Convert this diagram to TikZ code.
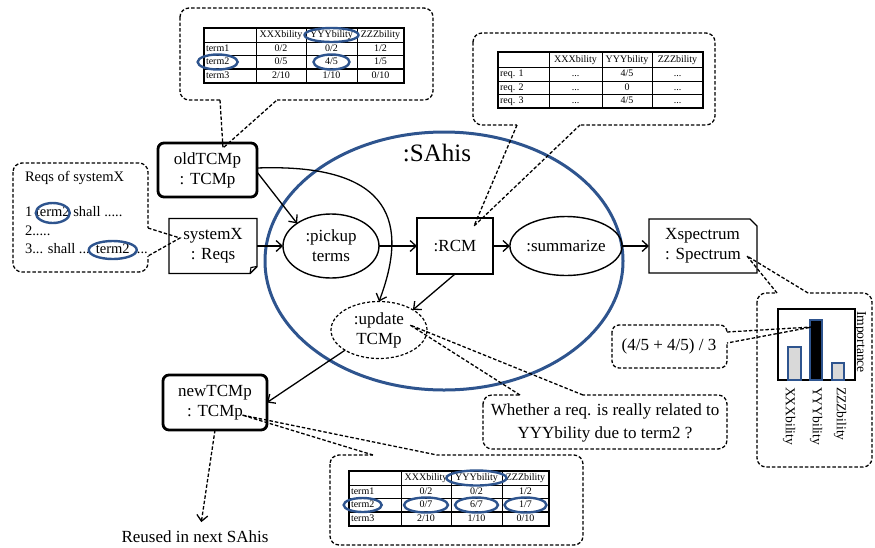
\documentclass[tikz,border=0pt]{standalone}
\usepackage{fontspec}
\setmainfont{Liberation Serif}
\usetikzlibrary{arrows.meta,shapes.geometric}
\definecolor{sablue}{RGB}{46,84,142}
\definecolor{bargray}{RGB}{217,217,217}
\tikzset{
  every node/.style={inner sep=0pt, outer sep=0pt},
  mainfont/.style={font=\fontsize{17}{20}\selectfont},
  obj/.style={mainfont, draw, line width=1.4pt, align=center},
  thickbox/.style={obj, line width=2.8pt, rounded corners=6pt, minimum width=99pt, minimum height=54pt},
  proc/.style={obj, ellipse},
  arr/.style={line width=1.3pt, -{Straight Barb[length=6pt,width=11pt]}},
  dsh/.style={dash pattern=on 3.5pt off 2pt, line width=1.3pt},
  callout/.style={dsh, rounded corners=9pt},
  erase/.style={white, line width=3pt},
  hl/.style={draw=sablue, line width=2.4pt},
  tabtxt/.style={font=\fontsize{10}{11}\selectfont, text height=7pt, text depth=2pt},
  rq/.style={font=\fontsize{14.5}{17}\selectfont, anchor=west, text height=10pt, text depth=3pt},
  chartlbl/.style={font=\fontsize{13.6}{15}\selectfont, rotate=-90},
  barbox/.style={draw=sablue, line width=2.5pt},
}
\newcommand\tcmtab[6]{%
\begin{scope}[shift={(#2,#3)}]
\draw[line width=.8pt] (52,0) -- (52,55) (102,0) -- (102,55) (153,0) -- (153,55) (0,14) -- (200,14) (0,27) -- (200,27);
\draw[line width=1.4pt] (0,41) -- (200,41) (0,0) rectangle (200,55);
\node[tabtxt] (#1-h1) at (77,7) {XXXbility};
\node[tabtxt] (#1-h2) at (127.5,7) {YYYbility};
\node[tabtxt] (#1-h3) at (176.5,7) {ZZZbility};
\node[tabtxt, anchor=west] (#1-r1) at (2,20.5) {term1};
\node[tabtxt, anchor=west] (#1-r2) at (2,34) {term2};
\node[tabtxt, anchor=west] (#1-r3) at (2,48) {term3};
\node[tabtxt] (#1-a1) at (77,20.5) {0/2};
\node[tabtxt] (#1-b1) at (127.5,20.5) {0/2};
\node[tabtxt] (#1-c1) at (176.5,20.5) {1/2};
\node[tabtxt] (#1-a2) at (77,34) {#4};
\node[tabtxt] (#1-b2) at (127.5,34) {#5};
\node[tabtxt] (#1-c2) at (176.5,34) {#6};
\node[tabtxt] (#1-a3) at (77,48) {2/10};
\node[tabtxt] (#1-b3) at (127.5,48) {1/10};
\node[tabtxt] (#1-c3) at (176.5,48) {0/10};
\end{scope}}
\begin{document}
\begin{tikzpicture}[x=1pt, y=-1pt]
\useasboundingbox (0,0) rectangle (875,547);

% big activity
\node[draw=sablue, line width=3pt, ellipse, minimum width=358pt, minimum height=258pt] (sahis) at (444,261) {};
\node[font=\fontsize{25}{28}\selectfont] (sahisl) at (437,153) {:SAhis};

% objects
\node[thickbox] (old) at (207.5,170) {oldTCMp\\: TCMp};
\node[obj, draw=none, minimum width=88pt, minimum height=55pt] (sys) at (213,246) {systemX\\: Reqs};
\draw[line width=1.4pt] (sys.north west) -- (sys.north east) -- ([yshift=7pt]sys.south east) -- ([xshift=-7pt]sys.south east) -- (sys.south west) -- cycle;
\draw[line width=1.1pt] ([yshift=7pt]sys.south east) -- ([xshift=-6pt,yshift=6pt]sys.south east) -- ([xshift=-7pt]sys.south east);
\node[proc, minimum width=96pt, minimum height=64pt] (pick) at (331,246) {:pickup\\terms};
\node[obj, line width=2.8pt, minimum width=76pt, minimum height=56pt] (rcm) at (455,246) {:RCM};
\node[proc, minimum width=92pt, minimum height=59pt] (sum) at (566,246) {:summarize};
\node[proc, dash pattern=on 3pt off 2pt, line width=1.2pt, minimum width=96pt, minimum height=57pt] (upd) at (379,330) {:update\\TCMp};
\node[obj, draw=none, align=left, minimum width=108pt, minimum height=54pt] (xs) at (703,246) {Xspectrum\\: Spectrum};
\draw[line width=1.4pt] (xs.south west) -- (xs.north west) -- ([xshift=-7pt]xs.north east) -- ([yshift=-7pt]xs.north east) -- (xs.south east) -- cycle;
\node[thickbox, minimum width=104pt, minimum height=55pt] (new) at (215,402.5) {newTCMp\\: TCMp};
\node[mainfont] (reuse) at (195,537) {Reused in next SAhis};

% flows
\draw[arr] (sys.east) -- (pick.west);
\draw[arr] ([yshift=-2pt]old.east) -- (pick.north west);
\draw[arr] ([yshift=2pt]old.east) .. controls (395,163) and (408,225) .. (upd.north);
\draw[arr] (pick.east) -- (rcm.west);
\draw[arr] (rcm.east) -- (sum.west);
\draw[arr] (sum.east) -- (xs.west);
\draw[arr] (rcm.south) -- (upd.north east);
\draw[arr] (upd.south west) -- (new.east);
\draw[arr, dsh, shorten >=9pt] (new.south) -- ([xshift=5pt]reuse.north);

% callout 1: old TCMp table
\coordinate (c1a) at (220,100); \coordinate (c1b) at (277,100); \coordinate (c1t) at (223,148);
\draw[callout] (180,8) rectangle (433,100);
\draw[erase] (c1a) -- (c1b);
\draw[dsh] (c1a) -- (c1t) -- (c1b);
\tcmtab{ta}{204}{28}{0/5}{4/5}{1/5}
\draw[hl] (ta-h2.center) ellipse (27pt and 7pt);
\draw[hl] (ta-r2.center) ellipse (20pt and 7.5pt);
\draw[hl] (ta-b2.center) ellipse (18pt and 7.5pt);

% callout 2: RCM table
\coordinate (c2a) at (517,125); \coordinate (c2b) at (580,125); \coordinate (c2t) at (474,226);
\draw[callout] (473,33) rectangle (715,125);
\draw[erase] (c2a) -- (c2b);
\draw[dsh] (c2a) -- (c2t) -- (c2b);
\begin{scope}[shift={(498,52)}]
\draw[line width=.8pt] (51,0) -- (51,56) (104,0) -- (104,56) (154,0) -- (154,56) (0,15) -- (205,15) (0,29) -- (205,29) (0,42) -- (205,42);
\draw[line width=1.4pt] (0,0) rectangle (205,56);
\node[tabtxt] (tr-h1) at (77.5,7.5) {XXXbility};
\node[tabtxt] (tr-h2) at (129,7.5) {YYYbility};
\node[tabtxt] (tr-h3) at (179.5,7.5) {ZZZbility};
\node[tabtxt, anchor=west] (tr-r1) at (2,22) {req. 1};
\node[tabtxt, anchor=west] (tr-r2) at (2,35.5) {req. 2};
\node[tabtxt, anchor=west] (tr-r3) at (2,49) {req. 3};
\node[tabtxt] (tr-a1) at (77.5,22) {...};
\node[tabtxt] (tr-b1) at (129,22) {4/5};
\node[tabtxt] (tr-c1) at (179.5,22) {...};
\node[tabtxt] (tr-a2) at (77.5,35.5) {...};
\node[tabtxt] (tr-b2) at (129,35.5) {0};
\node[tabtxt] (tr-c2) at (179.5,35.5) {...};
\node[tabtxt] (tr-a3) at (77.5,49) {...};
\node[tabtxt] (tr-b3) at (129,49) {4/5};
\node[tabtxt] (tr-c3) at (179.5,49) {...};
\end{scope}

% callout 3: requirements
\coordinate (c3a) at (148,228); \coordinate (c3b) at (148,256); \coordinate (c3t) at (180,238);
\draw[callout] (13,163) rectangle (148,272);
\draw[erase] (c3a) -- (c3b);
\draw[dsh] (c3a) -- (c3t) -- (c3b);
\node[rq] (rq0) at (25,178) {Reqs of systemX};
\node[rq] (rq1a) at (25,213) {1};
\node[rq] (rq1b) at ([xshift=3.6pt]rq1a.east) {term2};
\node[rq] (rq1c) at ([xshift=3.6pt]rq1b.east) {shall .....};
\node[rq] (rq2) at (25,232) {2.....};
\node[rq] (rq3a) at (25,250) {3... shall ...};
\node[rq] (rq3b) at ([xshift=6pt]rq3a.east) {term2};
\node[rq] (rq3c) at ([xshift=3.6pt]rq3b.east) {....};
\draw[hl] (rq1b.center) ellipse (17pt and 10pt);
\draw[hl] (rq3b.center) ellipse (24pt and 9pt);

% callout 4: new TCMp table
\coordinate (c4a) at (373,455); \coordinate (c4b) at (437,455); \coordinate (c4t) at (242,415);
\draw[callout] (330,455) rectangle (583,545);
\draw[erase] (c4a) -- (c4b);
\draw[dsh] (c4a) -- (c4t) -- (c4b);
\tcmtab{tb}{349}{471}{0/7}{6/7}{1/7}
\draw[hl] (tb-h2.center) ellipse (30pt and 7.5pt);
\draw[hl] (tb-r2.center) ellipse (19pt and 7pt);
\draw[hl] (tb-a2.center) ellipse (22pt and 7.5pt);
\draw[hl] (tb-b2.center) ellipse (21.5pt and 7.5pt);
\draw[hl] (tb-c2.center) ellipse (21pt and 7.5pt);

% callout 5: spectrum chart
\coordinate (c5a) at (777,293); \coordinate (c5b) at (808,293); \coordinate (c5t) at (747,256);
\draw[callout] (757,293) rectangle (872,467);
\draw[erase] (c5a) -- (c5b);
\draw[dsh] (c5a) -- (c5t) -- (c5b);
\draw[line width=1.3pt] (778,309) rectangle (855,380);
\draw[barbox, fill=bargray] (788,347) rectangle (801,380);
\draw[barbox, fill=black] (810,320) rectangle (822,380);
\draw[barbox, fill=bargray] (832,363) rectangle (844,380);
\node[chartlbl] (imp) at (860,342) {Importance};
\node[chartlbl, anchor=west] (lx) at (789,387) {XXXbility};
\node[chartlbl, anchor=west] (ly) at (816,387) {YYYbility};
\node[chartlbl, anchor=west] (lz) at (840,387) {ZZZbility};

% callout 6: formula
\coordinate (c6a) at (727,332); \coordinate (c6b) at (727,343); \coordinate (c6t) at (812,327);
\draw[dsh, rounded corners=7pt] (612,325) rectangle (727,368);
\draw[erase] (c6a) -- (c6b);
\draw[dsh] (c6a) -- (c6t) -- (c6b);
\node[mainfont] (frm) at (669,346) {(4/5 + 4/5) / 3};

% callout 7: question
\coordinate (c7a) at (520,395); \coordinate (c7b) at (583,395); \coordinate (c7t) at (410,325);
\draw[callout] (483,395) rectangle (727,449);
\draw[erase] (c7a) -- (c7b);
\draw[dsh] (c7a) -- (c7t) -- (c7b);
\node[font=\fontsize{17}{22.5}\selectfont, align=center] (why) at (605,423) {Whether a req. is really related to\\YYYbility due to term2 ?};
\end{tikzpicture}
\end{document}
